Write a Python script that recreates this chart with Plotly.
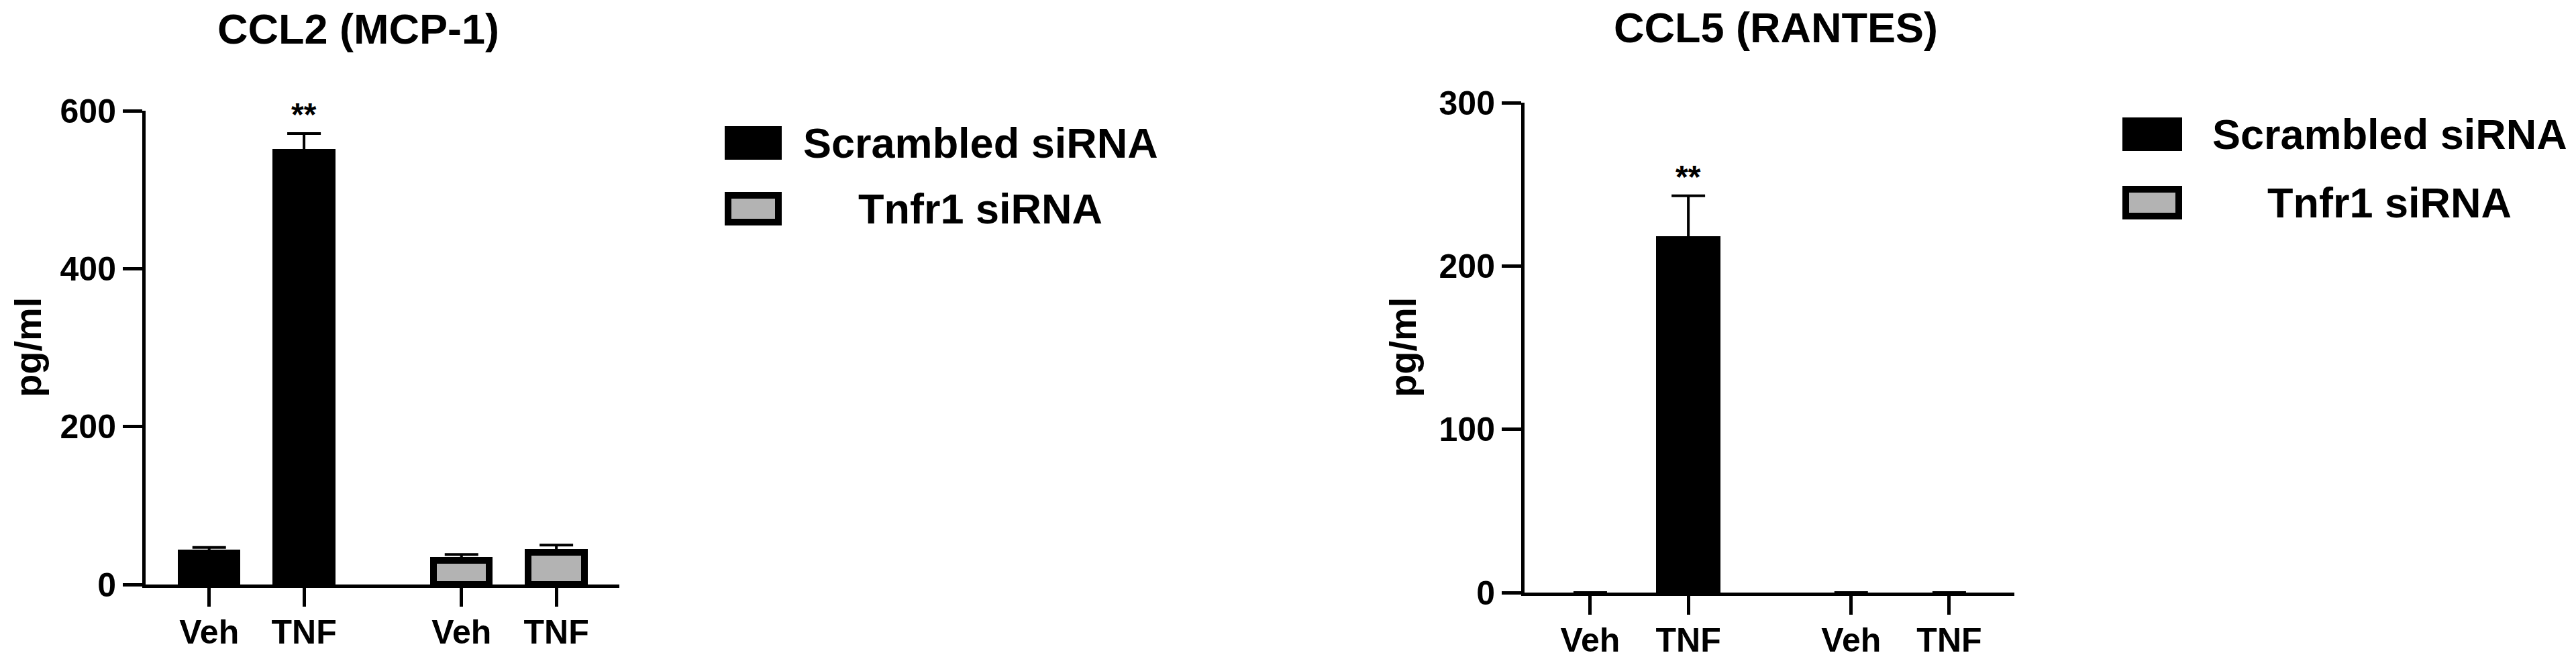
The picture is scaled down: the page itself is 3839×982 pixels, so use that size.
import plotly.graph_objects as go

W, H = 3839, 982

# data
conditions = ["Veh", "TNF", "Veh", "TNF"]
groups = ["Scrambled siRNA", "Scrambled siRNA", "Tnfr1 siRNA", "Tnfr1 siRNA"]
group_names = ["Scrambled siRNA", "Tnfr1 siRNA"]

ccl2_mean = [40, 547, 31, 41]
ccl2_sem = [7, 24, 7, 9]
ccl2_stars = ["", "**", "", ""]

ccl5_mean = [0, 216, 0, 0]
ccl5_sem = [0, 27, 0, 0]
ccl5_stars = ["", "**", "", ""]

panel_titles = ["CCL2 (MCP-1)", "CCL5 (RANTES)"]
y_ticks = [[0, 200, 400, 600], [0, 100, 200, 300]]

FONT = "Liberation Sans, Arial, sans-serif"
fills = {"Scrambled siRNA": "black", "Tnfr1 siRNA": "#b3b3b3"}

GAP = 0.66
xpos = [i + GAP * group_names.index(g) for i, g in enumerate(groups)]


def px(x):
    return x / W


def py(y):
    return 1 - y / H


# panel boxes in pixels: left, right, top, bottom
boxes = [(217, 923, 165, 871), (2272, 3002, 153, 883)]

fig = go.Figure()

panels = [(ccl2_mean, ccl2_sem, ccl2_stars), (ccl5_mean, ccl5_sem, ccl5_stars)]
for p, (mean, sem, stars) in enumerate(panels):
    xa = "x" if p == 0 else "x2"
    ya = "y" if p == 0 else "y2"
    for g in group_names:
        idx = [i for i in range(len(groups)) if groups[i] == g]
        vals = [mean[i] for i in idx]
        errs = [sem[i] if sem[i] > 0 else None for i in idx]
        fig.add_trace(go.Bar(
            x=[xpos[i] for i in idx],
            y=vals,
            name=g,
            width=0.59,
            marker=dict(color=fills[g],
                        line=dict(color="black", width=[10 if v > 0 else 0 for v in vals])),
            error_y=dict(type="data", symmetric=False,
                         array=errs, arrayminus=[0] * len(idx),
                         color="black", thickness=4, width=25),
            xaxis=xa, yaxis=ya, showlegend=False,
        ))
    for i, s in enumerate(stars):
        if s:
            fig.add_annotation(x=xpos[i], y=mean[i] + sem[i], xref=xa, yref=ya,
                               text=s, showarrow=False, yanchor="bottom",
                               font=dict(family=FONT, size=48, color="black", weight="bold"))

axis_common = dict(showline=True, linewidth=5, linecolor="black", ticks="outside",
                   tickwidth=5, tickcolor="black", showgrid=False, zeroline=False,
                   tickfont=dict(family=FONT, size=50, color="black", weight="bold"))

layout_axes = {}
for p, (l, r, t, b) in enumerate(boxes):
    sfx = "" if p == 0 else "2"
    layout_axes["xaxis" + sfx] = dict(domain=[px(l), px(r)], range=[-0.67, 4.324],
                                      anchor="y" + sfx, tickvals=xpos, ticktext=conditions,
                                      ticklen=28, ticklabelstandoff=-5, **axis_common)
    layout_axes["yaxis" + sfx] = dict(domain=[py(b), py(t)], range=[0, y_ticks[p][-1]],
                                      anchor="x" + sfx, tickvals=y_ticks[p],
                                      ticklen=29, **axis_common)

fig.update_layout(width=W, height=H, autosize=False,
                  margin=dict(l=0, r=0, t=0, b=0, pad=0, autoexpand=False),
                  paper_bgcolor="white", plot_bgcolor="white",
                  bargap=0, **layout_axes)

# titles and y-axis labels
title_pos = [(534, 43), (2646, 41)]
ylabel_pos = [(41, 518), (2090, 518)]
for p in range(2):
    fig.add_annotation(x=px(title_pos[p][0]), y=py(title_pos[p][1]), xref="paper", yref="paper",
                       text=panel_titles[p], showarrow=False, xanchor="center", yanchor="middle",
                       font=dict(family=FONT, size=63, color="black", weight="bold"))
    fig.add_annotation(x=px(ylabel_pos[p][0]), y=py(ylabel_pos[p][1]), xref="paper", yref="paper",
                       text="pg/ml", textangle=-90, showarrow=False,
                       xanchor="center", yanchor="middle",
                       font=dict(family=FONT, size=56, color="black", weight="bold"))

# hand-drawn legends (big swatches, centred labels)
legend_boxes = [(1080, 1165, 1461, [213, 311]), (3163, 3252, 3561, [200, 302])]
for x0, x1, tx, rows in legend_boxes:
    for g, yc in zip(group_names, rows):
        fig.add_shape(type="rect", xref="paper", yref="paper",
                      x0=px(x0 + 5), x1=px(x1 - 5), y0=py(yc - 20), y1=py(yc + 20),
                      fillcolor=fills[g], line=dict(color="black", width=10))
        fig.add_annotation(x=px(tx), y=py(yc), xref="paper", yref="paper", text=g,
                           showarrow=False, xanchor="center", yanchor="middle",
                           font=dict(family=FONT, size=63, color="black", weight="bold"))

fig.write_html("out.html", config={"displayModeBar": False},
               post_script="document.body.style.margin='0';")
